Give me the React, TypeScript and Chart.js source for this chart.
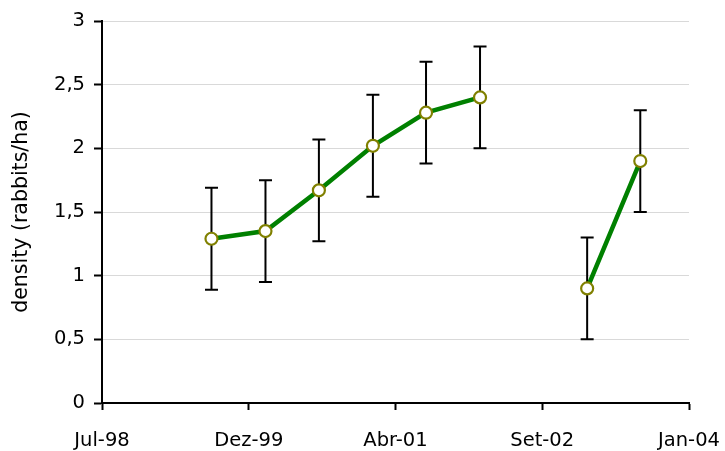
import React, { useEffect, useRef } from "react";
import { Chart, registerables } from "chart.js";

Chart.register(...registerables);

// Sampling dates (one survey roughly every six months; Aug-02 missing)
const sampleDates = [
  "1999-08-01",
  "2000-02-01",
  "2000-08-01",
  "2001-02-01",
  "2001-08-01",
  "2002-02-01",
  "2002-08-01",
  "2003-02-01",
  "2003-08-01",
];
// density (rabbits/ha)
const density = [1.29, 1.35, 1.67, 2.02, 2.28, 2.4, null, 0.9, 1.9];
// error bar half-length
const errors = [0.4, 0.4, 0.4, 0.4, 0.4, 0.4, null, 0.4, 0.4];

// x-axis tick labels and the dates they stand for
const tickLabels = ["Jul-98", "Dez-99", "Abr-01", "Set-02", "Jan-04"];
const tickDates = ["1998-07-24", "1999-12-06", "2001-04-19", "2002-09-01", "2004-01-14"];

const yTicks = [0, 0.5, 1, 1.5, 2, 2.5, 3];

const FONT = "'DejaVu Sans', Verdana, sans-serif";

function serial(d: string): number {
  const [y, m, day] = d.split("-").map(Number);
  return Math.round((Date.UTC(y, m - 1, day) - Date.UTC(1899, 11, 30)) / 86400000);
}

const errorBarPlugin = {
  id: "errorBars",
  beforeDatasetsDraw(chart: any) {
    const ctx = chart.ctx;
    const xs = chart.scales.x;
    const ys = chart.scales.y;
    ctx.save();
    ctx.strokeStyle = "#000000";
    ctx.lineWidth = 2;
    sampleDates.forEach((d, i) => {
      const v = density[i];
      const e = errors[i];
      if (v == null || e == null) return;
      const px = xs.getPixelForValue(serial(d));
      const top = ys.getPixelForValue(v + e);
      const bot = ys.getPixelForValue(v - e);
      const cap = 6.5;
      ctx.beginPath();
      ctx.moveTo(px, top);
      ctx.lineTo(px, bot);
      ctx.moveTo(px - cap, top);
      ctx.lineTo(px + cap, top);
      ctx.moveTo(px - cap, bot);
      ctx.lineTo(px + cap, bot);
      ctx.stroke();
    });
    ctx.restore();
  },
};

export default function App() {
  const ref = useRef<HTMLCanvasElement | null>(null);

  useEffect(() => {
    if (!ref.current) return;
    const tickSerials = tickDates.map(serial);
    const chart = new Chart(ref.current, {
      type: "line",
      data: {
        datasets: [
          {
            label: "density",
            data: sampleDates.map((d, i) => ({ x: serial(d), y: density[i] as any })),
            borderColor: "#008000",
            borderWidth: 4.5,
            pointRadius: 6,
            pointBorderWidth: 2.2,
            pointBorderColor: "#808000",
            pointBackgroundColor: "#ffffff",
            spanGaps: false,
            tension: 0,
          },
        ],
      },
      options: {
        responsive: false,
        animation: false,
        events: [],
        layout: { padding: { left: 0, top: 21, right: 36, bottom: 0 } },
        plugins: {
          legend: { display: false },
          tooltip: { enabled: false },
        },
        scales: {
          x: {
            type: "linear",
            min: tickSerials[0],
            max: tickSerials[tickSerials.length - 1],
            afterBuildTicks: (scale: any) => {
              scale.ticks = tickSerials.map((v) => ({ value: v }));
            },
            afterFit: (scale: any) => {
              scale.height = 48;
              scale.paddingLeft = 0;
              scale.paddingRight = 0;
            },
            ticks: {
              autoSkip: false,
              maxRotation: 0,
              padding: 19,
              color: "#000000",
              font: { family: FONT, size: 19.5 },
              callback: (_v: any, i: number) => tickLabels[i],
            },
            grid: {
              drawOnChartArea: false,
              drawTicks: true,
              tickLength: 7,
              tickColor: "#000000",
              tickWidth: 2,
            },
            border: { display: true, color: "#000000", width: 2 },
          },
          y: {
            min: 0,
            max: 3,
            afterBuildTicks: (scale: any) => {
              scale.ticks = yTicks.map((v) => ({ value: v }));
            },
            afterFit: (scale: any) => {
              scale.width = 102;
              scale.paddingTop = 0;
              scale.paddingBottom = 0;
            },
            ticks: {
              padding: 9,
              color: "#000000",
              font: { family: FONT, size: 19.5 },
              callback: (v: any) => String(v).replace(".", ","),
            },
            grid: {
              color: "#d9d9d9",
              lineWidth: 1,
              drawTicks: true,
              tickLength: 8,
              tickColor: "#000000",
              tickWidth: 2,
            },
            border: { display: true, color: "#000000", width: 2 },
            title: {
              display: true,
              text: "density (rabbits/ha)",
              color: "#000000",
              font: { family: FONT, size: 20.5 },
              padding: { top: 9, bottom: 0 },
            },
          },
        },
      },
      plugins: [errorBarPlugin],
    });
    return () => chart.destroy();
  }, []);

  return (
    <div style={{ position: "absolute", left: 0, top: 0, width: 725, height: 451, background: "#ffffff" }}>
      <canvas ref={ref} width={725} height={451} style={{ width: 725, height: 451 }} />
    </div>
  );
}
